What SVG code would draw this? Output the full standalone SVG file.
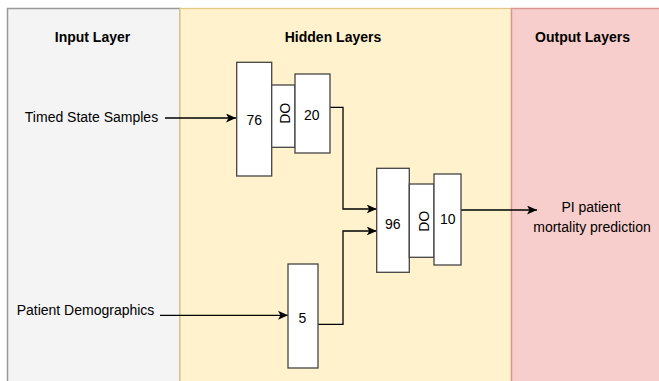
<svg xmlns="http://www.w3.org/2000/svg" width="659" height="381" viewBox="0 0 659 381">
<style>
.hd{font-family:"Liberation Sans",Arial,sans-serif;font-size:14px;font-weight:bold;fill:#000;text-anchor:middle}
.tx{font-family:"Liberation Sans",Arial,sans-serif;font-size:14px;fill:#000;text-anchor:middle}
.nd{fill:#fff;stroke:#444;stroke-width:1.3}
.cn{fill:none;stroke:#000;stroke-width:1.3}
</style>
<defs>
<marker id="arr" markerUnits="userSpaceOnUse" markerWidth="12" markerHeight="10" refX="10" refY="4.5" orient="auto" viewBox="0 0 12 10">
<path d="M0,0 L10,4.5 L0,9 L2.5,4.5 Z" fill="#000"/>
</marker>
</defs>
<rect width="659" height="381" fill="#fff"/>
<g id="panel-input">
<rect x="7.5" y="8.5" width="172.5" height="390" fill="#f4f4f4" stroke="#999" stroke-width="1.5"/>
<text class="hd" x="92.5" y="42">Input Layer</text>
</g>
<g id="panel-hidden">
<rect x="180" y="8.5" width="331.5" height="390" fill="#fff2cc" stroke="#e2ca85" stroke-width="1.3"/>
<text class="hd" x="333" y="42">Hidden Layers</text>
</g>
<g id="panel-output">
<rect x="511.5" y="8.5" width="160" height="390" fill="#f8cecc" stroke="#d99593" stroke-width="1.5"/>
<text class="hd" x="582.5" y="42">Output Layers</text>
</g>
<g id="label-timed"><text class="tx" x="91.5" y="122">Timed State Samples</text></g>
<g id="label-demo"><text class="tx" x="85.5" y="315">Patient Demographics</text></g>
<g id="label-output"><text class="tx" x="591" y="212">PI patient</text><text class="tx" x="592" y="232">mortality prediction</text></g>
<g id="connectors">
<path class="cn" d="M165,118 L236,118" marker-end="url(#arr)"/>
<path class="cn" d="M330,107.3 L343,107.3 L343,209 L376.7,209" marker-end="url(#arr)"/>
<path class="cn" d="M318,324.3 L343,324.3 L343,231 L376.7,231" marker-end="url(#arr)"/>
<path class="cn" d="M461,210 L537,210" marker-end="url(#arr)"/>
<path class="cn" d="M160,315.3 L288,315.3" marker-end="url(#arr)"/>
</g>
<g id="node-76"><rect class="nd" x="236.7" y="62.3" width="35" height="113.7"/><text class="tx" x="254.3" y="125">76</text></g>
<g id="node-do1"><rect class="nd" x="271.7" y="85" width="23.3" height="62.3"/><text class="tx" transform="translate(289.7,113.3) rotate(-90)" x="0" y="0">DO</text></g>
<g id="node-20"><rect class="nd" x="295" y="74" width="35" height="79"/><text class="tx" x="311.7" y="120">20</text></g>
<g id="node-96"><rect class="nd" x="376.7" y="168.3" width="32.6" height="104"/><text class="tx" x="392.7" y="229">96</text></g>
<g id="node-do2"><rect class="nd" x="409.3" y="184" width="24.7" height="73.3"/><text class="tx" transform="translate(428.7,221.3) rotate(-90)" x="0" y="0">DO</text></g>
<g id="node-10"><rect class="nd" x="434" y="174" width="27" height="91"/><text class="tx" x="447.7" y="224">10</text></g>
<g id="node-5"><rect class="nd" x="288" y="264" width="30" height="104"/><text class="tx" x="302.3" y="323">5</text></g>
</svg>
